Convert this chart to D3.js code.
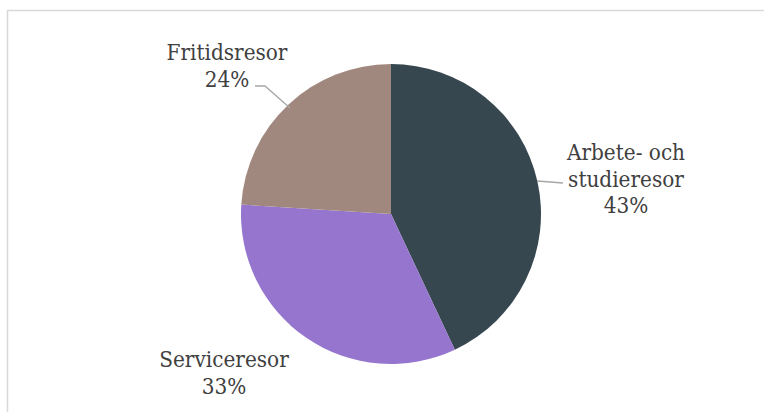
<!DOCTYPE html>
<html><head><meta charset="utf-8">
<script src="https://cdn.jsdelivr.net/npm/d3@7"></script>
<style>body{margin:0;background:#fff}svg{display:block}</style>
</head><body>
<script>
const categories = ["Arbete- och studieresor", "Serviceresor", "Fritidsresor"];
const values = [43, 33, 24];
const colors = ["#37474f", "#9575cd", "#a1887f"];
const labelLines = [["Arbete- och", "studieresor", "43%"], ["Serviceresor", "33%"], ["Fritidsresor", "24%"]];

const W = 764, H = 412;
const svg = d3.select("body").append("svg").attr("width", W).attr("height", H);
svg.append("path").attr("d", `M7.5,${H}V10.5H${W}`).attr("fill", "none").attr("stroke", "#d9d9d9").attr("stroke-width", 1.5);

const cx = 391, cy = 214, r = 150;
const pie = d3.pie().sort(null).value(d => d)(values);
const arc = d3.arc().innerRadius(0).outerRadius(r);
const g = svg.append("g").attr("transform", `translate(${cx},${cy})`);
g.selectAll("path.s").data(pie).join("path").attr("class", "s")
  .attr("d", arc).attr("fill", (d, i) => colors[i]);

// label positions (center x, first baseline)
const labelPos = [[626, 160], [224, 367], [227, 60]];
const leaders = [
  [[537, 181], [563, 183]],
  null,
  [[290, 108], [265, 86], [255, 86]]
];
leaders.forEach(p => {
  if (!p) return;
  svg.append("path").attr("d", d3.line()(p)).attr("fill", "none").attr("stroke", "#a6a6a6").attr("stroke-width", 1.3);
});
labelLines.forEach((lines, i) => {
  const t = svg.append("text").attr("text-anchor", "middle")
    .attr("font-family", "'DejaVu Serif Condensed', 'DejaVu Serif', serif")
    .style("font-stretch", "condensed")
    .attr("font-size", 22.3).attr("fill", "#404040");
  lines.forEach((l, j) => t.append("tspan").attr("x", labelPos[i][0]).attr("y", labelPos[i][1] + j * 26.5).text(l));
});
</script>
</body></html>
